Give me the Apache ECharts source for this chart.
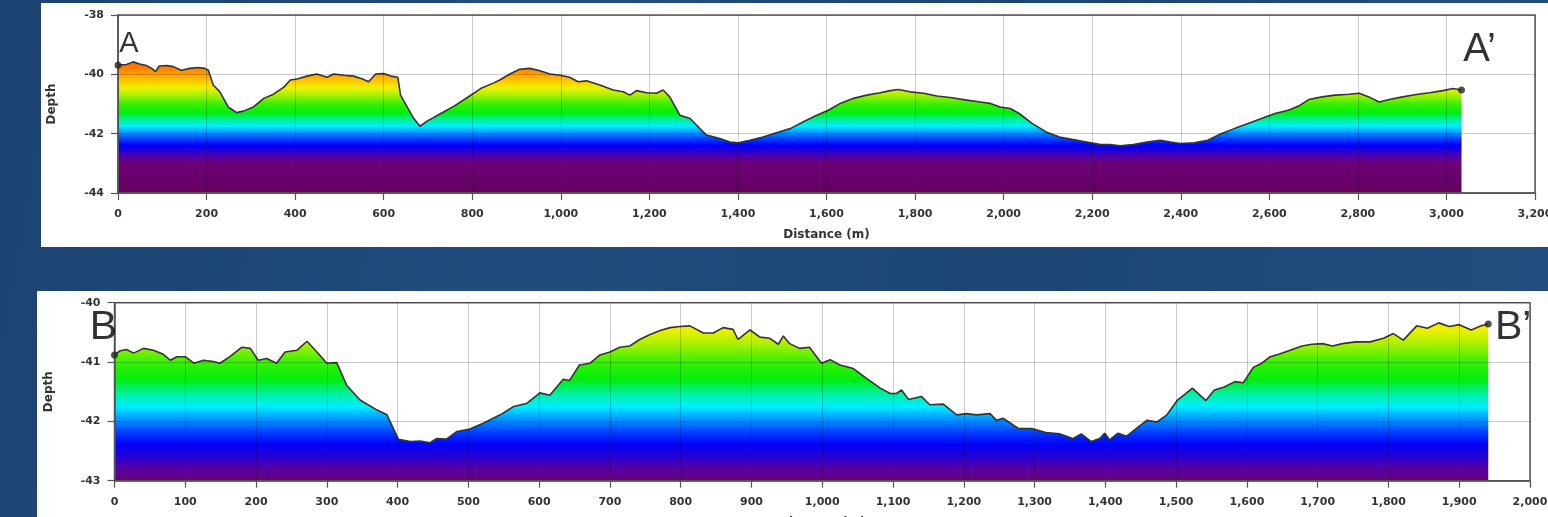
<!DOCTYPE html>
<html><head><meta charset="utf-8">
<script src="https://cdn.jsdelivr.net/npm/echarts@6/dist/echarts.min.js"></script>
<style>
html,body{margin:0;padding:0;width:1548px;height:517px;overflow:hidden;
background:linear-gradient(100deg,#1c4372 0%,#204c7d 35%,#1d4675 65%,#214e7e 100%);}
#p1{position:absolute;left:41px;top:3px;width:1507px;height:244px;background:#fff;}
#p2{position:absolute;left:37px;top:291px;width:1511px;height:226px;background:#fff;}
</style></head><body>
<div id="p1"></div><div id="p2"></div>
<script>
// ---- Profile A–A' ----
const topDistance = [0,19,34,49,64,76,85,93,110,125,143,162,181,196,204,215,230,249,268,283,306,329,351,374,389,404,427,449,472,487,510,532,551,566,582,600,616,632,638,653,668,682,699,729,759,789,819,850,862,885,907,930,953,975,998,1020,1039,1058,1088,1118,1141,1156,1171,1194,1216,1231,1246,1269,1292,1314,1329,1359,1382,1401,1427,1457,1487,1518,1548,1578,1604,1631,1661,1691,1721,1744,1762,1789,1819,1849,1879,1917,1947,1970,1992,2015,2035,2065,2096,2126,2157,2187,2217,2240,2263,2293,2324,2354,2377,2400,2430,2461,2491,2521,2552,2582,2613,2643,2666,2689,2719,2749,2780,2803,2825,2848,2871,2901,2932,2962,2992,3015,3034];
const topDepth = [-39.69,-39.67,-39.58,-39.65,-39.70,-39.80,-39.91,-39.72,-39.70,-39.74,-39.86,-39.80,-39.77,-39.80,-39.86,-40.36,-40.59,-41.10,-41.29,-41.24,-41.10,-40.81,-40.67,-40.44,-40.19,-40.16,-40.06,-39.99,-40.10,-39.99,-40.03,-40.06,-40.15,-40.25,-39.99,-39.97,-40.06,-40.10,-40.70,-41.10,-41.49,-41.75,-41.57,-41.32,-41.07,-40.78,-40.48,-40.28,-40.19,-39.99,-39.83,-39.80,-39.88,-39.99,-40.03,-40.10,-40.25,-40.22,-40.36,-40.53,-40.59,-40.70,-40.55,-40.62,-40.64,-40.53,-40.76,-41.38,-41.49,-41.83,-42.05,-42.16,-42.28,-42.31,-42.22,-42.11,-41.97,-41.83,-41.60,-41.38,-41.21,-40.98,-40.81,-40.70,-40.62,-40.55,-40.51,-40.59,-40.64,-40.73,-40.78,-40.87,-40.93,-40.98,-41.10,-41.15,-41.32,-41.66,-41.94,-42.11,-42.20,-42.28,-42.36,-42.37,-42.41,-42.37,-42.28,-42.22,-42.28,-42.33,-42.31,-42.22,-42.00,-41.83,-41.66,-41.49,-41.32,-41.21,-41.07,-40.85,-40.76,-40.70,-40.67,-40.64,-40.76,-40.93,-40.85,-40.76,-40.68,-40.62,-40.55,-40.48,-40.53];
const topEndLabels = ['A', 'A\u2019'];
const topXAxis = {min: 0, max: 3200, interval: 200};
const topYAxis = {min: -44, max: -38, interval: 2};

// ---- Profile B–B' ----
const botDistance = [0,8,17,27,41,55,69,79,88,100,112,126,140,149,163,180,192,203,215,229,241,258,272,286,300,314,328,347,371,385,401,418,432,446,455,469,484,502,521,545,564,582,601,615,634,643,657,672,686,700,714,728,742,756,771,785,799,813,832,846,860,874,881,898,912,926,938,945,954,968,982,999,1011,1025,1044,1063,1082,1096,1105,1112,1122,1140,1152,1171,1190,1204,1218,1237,1246,1256,1277,1296,1316,1335,1354,1366,1380,1392,1399,1406,1418,1430,1444,1459,1473,1487,1502,1523,1542,1554,1568,1583,1595,1609,1621,1633,1645,1659,1678,1692,1707,1721,1735,1754,1774,1793,1807,1821,1840,1855,1871,1886,1900,1917,1931,1941];
const botDepth = [-40.88,-40.81,-40.79,-40.85,-40.77,-40.80,-40.87,-40.97,-40.91,-40.91,-41.02,-40.97,-40.99,-41.02,-40.91,-40.75,-40.77,-40.97,-40.94,-41.02,-40.83,-40.80,-40.65,-40.83,-41.02,-41.01,-41.39,-41.64,-41.81,-41.89,-42.30,-42.34,-42.33,-42.36,-42.29,-42.30,-42.17,-42.13,-42.03,-41.89,-41.75,-41.70,-41.52,-41.56,-41.29,-41.31,-41.05,-41.02,-40.88,-40.83,-40.75,-40.73,-40.62,-40.54,-40.47,-40.42,-40.40,-40.39,-40.51,-40.51,-40.42,-40.45,-40.62,-40.46,-40.58,-40.60,-40.70,-40.56,-40.69,-40.77,-40.75,-41.02,-40.96,-41.05,-41.11,-41.28,-41.44,-41.53,-41.53,-41.47,-41.63,-41.58,-41.72,-41.71,-41.89,-41.87,-41.89,-41.87,-41.98,-41.95,-42.12,-42.12,-42.19,-42.21,-42.29,-42.21,-42.34,-42.29,-42.20,-42.31,-42.20,-42.25,-42.12,-41.98,-42.01,-41.89,-41.64,-41.44,-41.65,-41.47,-41.42,-41.33,-41.35,-41.09,-41.02,-40.91,-40.87,-40.81,-40.73,-40.70,-40.69,-40.73,-40.69,-40.66,-40.66,-40.60,-40.52,-40.63,-40.39,-40.43,-40.34,-40.40,-40.37,-40.46,-40.39,-40.36];
const botEndLabels = ['B', 'B\u2019'];
const botXAxis = {min: 0, max: 2000, interval: 100};
const botYAxis = {min: -43, max: -40, interval: 1};

const xAxisName = 'Distance (m)';
const yAxisName = 'Depth';

// depth colour ramp (style)
const rampStops = [
  [-44.0, '#64005f'], [-43.0, '#6c0076'], [-42.78, '#5400a8'], [-42.55, '#1c00dc'],
  [-42.38, '#0000fa'], [-42.18, '#0040ff'], [-41.97, '#0094ff'], [-41.75, '#00eeff'],
  [-41.55, '#00f0a8'], [-41.3, '#00ee10'], [-41.0, '#38f000'], [-40.7, '#a8f000'],
  [-40.45, '#f0f000'], [-40.2, '#ffc400'], [-39.95, '#ff9800'], [-39.7, '#ff7200'],
  [-39.4, '#ff5200'], [-38.0, '#ff3000']
];
function hexRgb(h){return [parseInt(h.slice(1,3),16),parseInt(h.slice(3,5),16),parseInt(h.slice(5,7),16)];}
function depthColor(d){
  if (d <= rampStops[0][0]) return rampStops[0][1];
  for (let i = 1; i < rampStops.length; i++) {
    if (d <= rampStops[i][0]) {
      const a = rampStops[i-1], b = rampStops[i];
      const t = (d - a[0]) / (b[0] - a[0]);
      const ca = hexRgb(a[1]), cb = hexRgb(b[1]);
      const c = ca.map((v, k) => Math.round(v + (cb[k] - v) * t));
      return 'rgb(' + c.join(',') + ')';
    }
  }
  return rampStops[rampStops.length-1][1];
}
function ramp(min, max){
  const n = Math.round((max - min) / 0.05);
  const out = [];
  for (let i = 0; i <= n; i++) out.push(depthColor(min + (max - min) * i / n));
  return out;
}

const labelFont = 'DejaVu Sans';
function makeOption(cfg){
  const pts = cfg.dist.map((d, i) => [d, cfg.depth[i]]);
  const last = pts.length - 1;
  const ends = [
    {value: pts[0], label: {fontSize: cfg.startFont, offset: cfg.startOffset}},
    {value: pts[last], label: {fontSize: cfg.endFont, offset: cfg.endOffset}}
  ];
  return {
    animation: false,
    grid: {left: cfg.grid.left, top: cfg.grid.top, width: cfg.grid.width, height: cfg.grid.height,
      show: true, borderColor: '#5c5c5c', borderWidth: 1.5, backgroundColor: 'transparent',
      containLabel: false, outerBoundsMode: 'none'},
    xAxis: {type: 'value', min: cfg.x.min, max: cfg.x.max, interval: cfg.x.interval,
      name: xAxisName, nameLocation: 'middle', nameGap: 36,
      nameTextStyle: {fontFamily: labelFont, fontWeight: 'bold', fontSize: 12, color: '#333'},
      axisLine: {show: true, onZero: false, lineStyle: {color: '#555', width: 1.5}},
      axisTick: {show: true, length: 7, lineStyle: {color: '#555', width: 1.2}},
      axisLabel: {margin: 16, fontFamily: labelFont, fontWeight: 'bold', fontSize: 11, color: '#333',
        formatter: v => v.toLocaleString('en-US')},
      splitLine: {show: true, lineStyle: {color: 'rgba(0,0,0,0.2)', width: 1}}},
    yAxis: {type: 'value', min: cfg.y.min, max: cfg.y.max, interval: cfg.y.interval,
      name: yAxisName, nameLocation: 'middle', nameGap: 60,
      nameTextStyle: {fontFamily: labelFont, fontWeight: 'bold', fontSize: 12, color: '#333'},
      axisLine: {show: true, onZero: false, lineStyle: {color: '#555', width: 1.5}},
      axisTick: {show: true, length: 7, lineStyle: {color: '#555', width: 1.2}},
      axisLabel: {margin: 14, fontFamily: labelFont, fontWeight: 'bold', fontSize: 11, color: '#333'},
      splitLine: {show: true, lineStyle: {color: 'rgba(0,0,0,0.2)', width: 1}}},
    visualMap: {type: 'continuous', show: false, seriesIndex: 0, dimension: 1,
      min: cfg.y.min, max: cfg.y.max, inRange: {color: ramp(cfg.y.min, cfg.y.max)}},
    series: [
      {type: 'line', data: pts, symbol: 'none', showSymbol: false, z: -1, silent: true,
        lineStyle: {color: '#343434', width: 1.6},
        areaStyle: {origin: 'start', opacity: 1}},
      {type: 'scatter', data: ends, symbol: 'circle', symbolSize: 7, z: 5, silent: true,
        itemStyle: {color: '#262626'},
        label: {show: true, position: 'inside', color: '#000', textBorderWidth: 0,
          fontFamily: 'Liberation Sans',
          formatter: p => cfg.names[p.dataIndex]}}
    ]
  };
}

const c1 = echarts.init(document.getElementById('p1'), null, {renderer: 'canvas'});
c1.setOption(makeOption({
  dist: topDistance, depth: topDepth, names: topEndLabels, x: topXAxis, y: topYAxis,
  grid: {left: 77, top: 12, width: 1417, height: 178},
  startFont: 29, startOffset: [11, -21], endFont: 40, endOffset: [18, -40]
}));
const c2 = echarts.init(document.getElementById('p2'), null, {renderer: 'canvas'});
c2.setOption(makeOption({
  dist: botDistance, depth: botDepth, names: botEndLabels, x: botXAxis, y: botYAxis,
  grid: {left: 77.5, top: 11.7, width: 1415.5, height: 178},
  startFont: 41, startOffset: [-11, -27], endFont: 41, endOffset: [25, 4]
}));
</script>
</body></html>
